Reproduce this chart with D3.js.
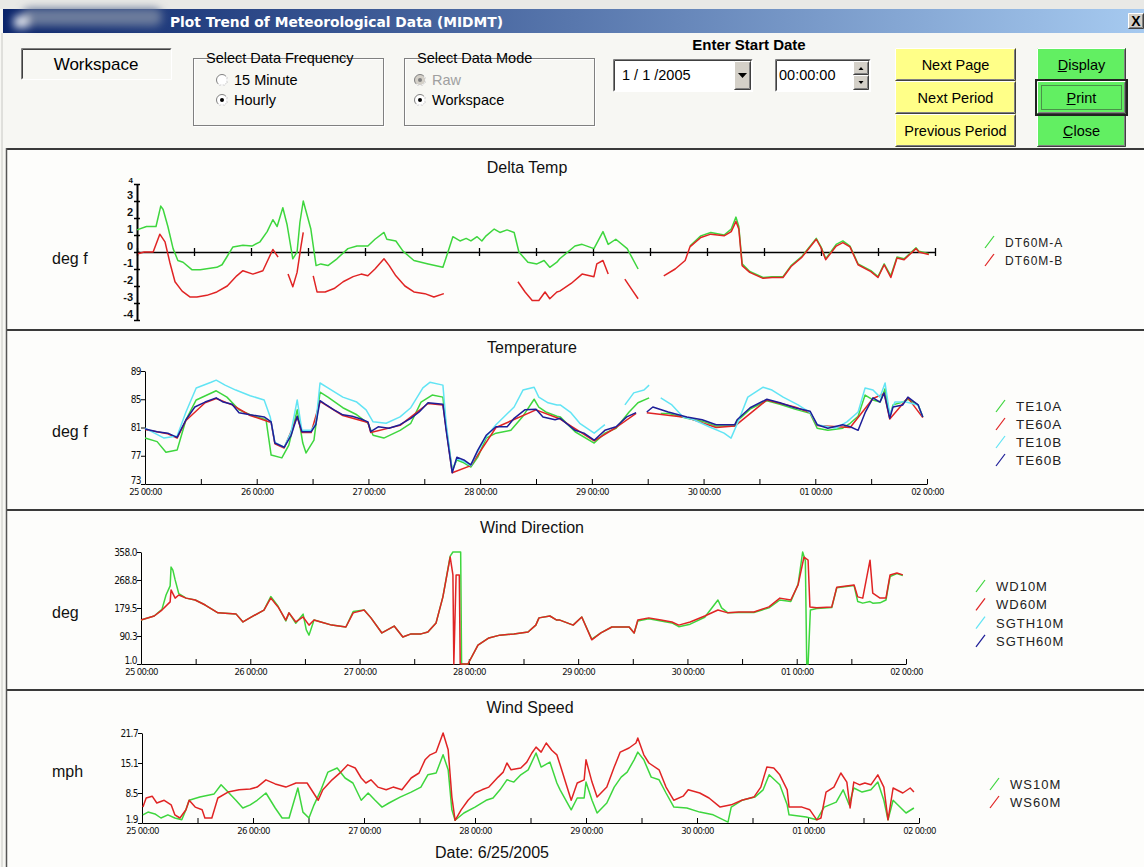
<!DOCTYPE html>
<html>
<head>
<meta charset="utf-8">
<script src="https://cdn.jsdelivr.net/npm/d3@7"></script>
<style>
  body { margin: 0; background: #f7f7f3; }
  svg { display: block; font-family: "Liberation Sans", Arial, sans-serif; }
</style>
</head>
<body>
<script>

// all x values are hours counted from 25 00:00 (hourly data, 7 days)
dayLabels = ["25 00:00","26 00:00","27 00:00","28 00:00","29 00:00","30 00:00","01 00:00","02 00:00"]

dtTicks = [-4,-3,-2,-1,0,1,2,3,4]
teTicks = [73,77,81,85,89]
wdTicks = [1.0,90.3,179.5,268.8,358.0]
wsTicks = [1.9,8.5,15.1,21.7]

// null = missing hours (line break)
dt60mA = [[0,1.3],[2,1.5],[4,1.5],[5,2.7],[5.5,2.5],[6.5,1.5],[7.6,0.2],[8.6,-0.5],[9.7,-0.6],[11.6,-1.05],[13.3,-1.05],[16.8,-0.9],[17.9,-0.75],[19,-0.25],[20.2,0.3],[22.3,0.4],[24.2,0.35],[25.9,0.6],[27.4,1.2],[28.6,1.9],[29.5,1.5],[30.7,2.6],[31.6,1.6],[32.8,-0.4],[33.7,0],[34.3,1.75],[35,3.0],[36.6,1.35],[37.7,-0.8],[38.7,-0.7],[40.2,-0.8],[42.1,-0.4],[44.4,0.2],[46.3,0.35],[48.6,0.35],[50.1,0.75],[52,1.15],[52.6,0.75],[54.5,0.65],[56,0.05],[58.3,-0.5],[61.3,-0.7],[64.4,-0.9],[65,-0.4],[66.5,0.9],[68,0.65],[69.3,0.8],[70.3,0.65],[71.6,0.9],[72.6,0.65],[73.5,0.95],[75.2,1.35],[76.4,1.15],[77.9,1.3],[79.4,1.15],[80.4,0],[82.3,-0.6],[84.2,-0.7],[85.7,-0.5],[86.9,-0.9],[88.4,-0.6],[89,-0.4],[92.2,0.35],[93.7,0.45],[96.2,0.2],[98.1,1.2],[99.2,0.45],[100.8,0.75],[103.2,0.2],[105.5,-1.0],null,[116.4,0.35],[118.7,0.95],[120.8,1.15],[123.6,1.0],[125.1,1.35],[126.1,2.05],[126.7,1.5],[127.4,-0.7],[129,-1.15],[131.8,-1.5],[133.7,-1.45],[136,-1.45],[137.7,-0.8],[140,-0.25],[143,0.8],[144,0.3],[145,-0.4],[147.2,0.45],[148.6,0.65],[150.1,0.35],[151.8,-0.7],[154.5,-1.1],[156,-1.45],[157.3,-0.7],[158.7,-1.4],[160,-0.3],[161.5,-0.4],[164,0.25],[164.6,0.05],[166.7,-0.1]]
dt60mB = [[0.2,-0.1],[1.5,0],[3.4,0],[4.8,1.05],[5.9,0.6],[6.9,-0.6],[8,-1.75],[9.5,-2.3],[11.2,-2.65],[12.6,-2.65],[14.7,-2.55],[16.8,-2.35],[19,-2.0],[21,-1.4],[22.3,-1.1],[24.4,-1.3],[26.5,-1.1],[28.6,0.15],[29.7,-0.3],null,[31.8,-1.3],[32.8,-2.05],[33.7,-1.2],[34.5,0.3],[35,1.15],null,[37.1,-1.4],[37.9,-2.35],[39.6,-2.35],[41.5,-2.15],[43.4,-1.75],[45.5,-1.45],[47.2,-1.3],[48.6,-1.4],[50.1,-1.0],[52,-0.4],[53.1,-0.8],[54.5,-1.4],[56.4,-2.0],[58.3,-2.35],[60.6,-2.45],[62.5,-2.65],[64.6,-2.45],null,[80.2,-1.75],[81.7,-2.35],[83.2,-2.85],[84.6,-2.85],[85.9,-2.35],[86.9,-2.75],[88.4,-2.35],[89,-2.3],[91.4,-1.85],[93.7,-1.3],[96.2,-1.45],[96.8,-0.7],[98.1,-0.5],[99.2,-1.3],null,[102.7,-1.6],[104.4,-2.3],[105.5,-2.75],null,[110.9,-1.4],[113.3,-1.0],[115.4,-0.5],[116.4,0.3],[118.7,0.85],[120.8,1.05],[123.6,0.95],[125.1,1.2],[126.1,1.8],[126.7,1.35],[127.4,-0.8],[129,-1.2],[131.8,-1.55],[133.7,-1.5],[136,-1.5],[137.7,-0.85],[140,-0.3],[143,0.75],[144,0.25],[145,-0.45],[147.2,0.35],[148.6,0.55],[150.1,0.3],[151.8,-0.75],[154.5,-1.15],[156,-1.5],[157.3,-0.75],[158.7,-1.5],[160,-0.35],[161.5,-0.45],[164,0.2],[164.6,0.0],[166.7,-0.15]]

te10A = [[0,79.5],[2.6,79.0],[4.5,77.5],[6.9,77.8],[8.8,82.1],[11,84.9],[15.3,86.2],[17.6,85.3],[20.2,83.5],[22.6,82.8],[26,82.1],[27.1,77.1],[29.4,76.7],[30.9,78.5],[32.7,83.5],[33.9,78.8],[34.6,77.4],[36.3,79.2],[37.6,86.0],[39.3,85.3],[42.5,83.8],[45.5,82.8],[47.9,81.6],[49,79.9],[51.3,79.5],[54.8,80.6],[57.1,81.6],[59.3,84.6],[61.7,85.6],[64,85.3],[64.7,81.1],[66,75.0],[67,76.4],[68.5,76.0],[70,75.4],[71.5,76.8],[73.3,79.5],[75.4,80.2],[78.6,80.6],[81.2,82.6],[83.6,85.0],[84.6,83.9],[86.1,83.2],[88.5,82.6],[89.2,82.5],[92.4,80.4],[96.5,78.8],[98.8,80.2],[101.2,80.9],[104,83.2],[105.9,84.5],[108.3,85.2],null,[110.8,83.0],[112.4,83.0],[116.4,82.3],[119.7,81.9],[122.7,81.2],[126.7,81.2],[127.2,81.9],[130,83.6],[133.6,84.8],[136.4,84.3],[139.6,83.6],[142.9,83.0],[144.4,80.9],[146.7,80.6],[149.9,80.9],[151.5,81.6],[153.2,82.6],[154.7,85.6],[156.4,84.9],[157.9,84.6],[159,86.5],[160,82.5],[160.7,84.2],[162.8,84.6],[163.9,85.0],[166.1,84.2],[167.1,82.5]]
te60A = [[0,80.7],[4.9,80.1],[6.9,79.5],[8.8,82.0],[12.9,84.5],[15.3,85.1],[18.7,84.2],[22.6,82.7],[27.1,81.7],[27.9,78.7],[29.9,78.1],[32.7,82.5],[33.7,80.3],[35.7,80.3],[37.6,84.7],[42.5,82.7],[47.9,81.7],[48.5,80.3],[54.8,81.3],[60.8,84.4],[64,84.2],[66,74.6],[70,75.6],[75.4,81.0],[84,83.5],[89.2,82.2],[96.5,79.1],[101.2,81.0],[105.5,83.0],null,[107.8,83.1],[116.4,82.4],[122.7,81.0],[126.7,81.2],[133.6,84.9],[139.6,83.9],[142.9,83.1],[144.4,81.3],[151.5,81.0],[156.4,85.1],[158.8,85.8],[160,82.2],[163.9,85.2],[167.1,82.4]]
te10B = [[0,80.9],[4.1,79.5],[6.9,79.8],[8.8,83.2],[11,86.6],[14.2,87.4],[15.3,87.7],[17.2,87.0],[19.5,86.3],[22.6,85.5],[25.6,84.9],[26.9,82.5],[27.9,78.9],[29.9,78.2],[31.4,80.4],[32.7,84.9],[33.7,80.6],[35.7,80.6],[36.7,81.6],[37.6,87.3],[39.3,86.6],[42.5,85.3],[45.5,84.6],[47.5,83.5],[49,81.8],[51.8,81.6],[54.8,82.5],[57.1,83.8],[59.7,86.6],[61.2,87.4],[64,87.0],[64.7,81.6],[66,74.8],[67,76.6],[68.5,76.2],[70,75.6],[71.5,77.6],[73.3,79.7],[75.4,81.4],[79.3,83.9],[81.2,86.3],[83.6,86.7],[84.6,85.3],[86.6,84.5],[88.5,84.2],[89.2,84.2],[91.5,83.1],[93.4,81.6],[96.5,80.2],[98.8,81.4],null,[103.1,84.2],[105,85.9],[107.2,86.3],[108.3,87.0],null,[110.8,85.2],[113.2,84.2],[115.6,82.5],[117.9,82.1],[121.2,81.1],[124.4,80.2],[125.9,79.5],[127.6,82.1],[129.5,85.3],[132.8,86.7],[134.7,86.3],[137.1,85.3],[140.3,84.2],[142.9,83.1],[144.4,81.4],[148.4,80.9],[150.8,81.8],[153.2,83.2],[154.7,86.6],[156.4,86.3],[157.9,85.3],[159,87.3],[160,82.8],[161.1,84.6],[163.5,84.6],[166.1,84.2],[167.1,82.5]]
te60B = [[0,80.8],[2.6,80.4],[4.9,80.2],[6.9,79.6],[8.8,82.1],[10.7,83.9],[12.9,84.6],[15.3,85.2],[16.8,84.6],[18.7,84.3],[20.2,83.1],[22.6,82.8],[25.6,82.5],[27.1,81.8],[27.9,78.8],[29.9,78.2],[31.4,79.9],[32.7,82.6],[33.7,80.4],[35.7,80.4],[36.7,81.4],[37.6,84.8],[38.7,84.3],[40.6,83.5],[42.5,82.8],[44.5,82.6],[46.4,82.2],[47.9,81.8],[48.5,80.4],[50.1,81.1],[52.4,80.9],[54.8,81.4],[57.1,82.3],[58.9,83.2],[60.8,84.5],[64,84.3],[64.7,80.6],[66,74.6],[67,76.8],[68.5,76.4],[70,75.7],[71.5,77.8],[73.3,79.9],[75.4,81.1],[77.8,81.1],[79.3,82.3],[81.6,83.5],[84,83.6],[85.5,82.5],[88.1,82.1],[89.2,82.3],[92.4,80.6],[94.3,80.2],[96.5,79.2],[98.8,80.6],[101.2,81.1],[103.5,82.5],[105.5,83.1],null,[107.8,83.2],[109.1,83.9],[112.4,83.2],[116.4,82.5],[119.7,82.1],[122.7,81.4],[126.7,81.4],[127.2,82.1],[130,83.8],[133.6,85.0],[136.4,84.5],[139.6,83.8],[142.9,83.3],[144.4,81.4],[146.7,80.9],[149.9,81.4],[151.5,81.1],[153.2,80.6],[154.7,83.1],[156.4,85.2],[157.9,84.6],[158.8,85.9],[160,82.3],[160.7,83.9],[162.8,84.2],[163.9,85.3],[166.1,84.2],[167.1,82.5]]

wd10M = [[0,141],[2.9,154],[4.6,175],[5.5,221],[6.4,250],[6.6,310],[7.0,300],[7.5,269],[8.3,225],[9.9,211],[11.9,205],[14.1,189],[16.9,164],[20.9,160],[22.4,135],[23.9,148],[27,173],[28.5,216],[30.1,185],[31.8,138],[32.5,164],[34,131],[35.6,160],[36.3,110],[36.9,93],[38,141],[39.5,135],[41.9,125],[45,119],[46.6,168],[49,173],[50.5,148],[52.9,100],[55.6,122],[57.5,87],[59.3,97],[61.5,97],[63,103],[64.8,132],[66.3,215],[67.9,345],[68.5,358],[70.2,358],[70.4,1],[71.8,1],[74,61],[76.4,84],[78.8,93],[81.9,97],[85,103],[86.7,125],[87.4,148],[89.8,154],[91.3,141],[92,141],[94.9,125],[96.8,151],[99,80],[101,100],[103.4,119],[107.2,119],[108.3,100],[109.1,138],[111.5,145],[114.2,138],[116.6,132],[118.1,120],[120.6,128],[123.8,150],[126.7,205],[127.5,180],[128.9,164],[131.3,165],[134.6,165],[137.9,180],[140.3,205],[142.7,200],[144.3,255],[145.3,358],[145.9,330],[146.2,1],[146.5,1],[147,173],[148.4,178],[151.7,181],[152.8,244],[156.6,251],[157.4,200],[158.5,195],[160.1,200],[160.7,195],[162.3,196],[163.6,205],[164.5,280],[166,289],[167.3,283]]
wd60M = [[0,141],[2.9,154],[4.6,173],[6.4,199],[6.6,237],[7.5,211],[8.3,221],[9.9,211],[11.9,205],[14.1,189],[16.9,164],[20.9,160],[22.4,135],[23.9,148],[27,173],[28.5,211],[30.1,183],[31.8,141],[32.5,164],[34,135],[35.6,151],[36.9,125],[38,141],[39.5,135],[41.9,125],[45,119],[46.6,164],[49,173],[50.5,148],[52.9,100],[55.6,122],[57.5,87],[59.3,97],[61.5,97],[63,103],[64.8,132],[66.3,215],[67.9,342],[68.5,285],[68.7,1],[69.2,285],[69.9,285],[70.1,1],[71.8,1],[74,61],[76.4,84],[78.8,93],[81.9,97],[85,103],[86.7,125],[87.4,148],[89.8,154],[91.3,141],[92,141],[94.9,125],[96.8,151],[99,78],[101,100],[103.4,119],[107.2,119],[108.3,100],[109.1,141],[111.5,148],[114.2,141],[116.6,135],[118.1,125],[120.6,135],[123.8,154],[126.7,173],[128.9,164],[131.3,167],[134.6,167],[137.9,183],[140.3,211],[142.7,205],[144.3,253],[145.6,342],[146.5,332],[146.9,183],[148.4,180],[151.7,183],[152.8,246],[156.6,253],[157.4,215],[158.5,211],[160.1,332],[160.7,227],[162.3,211],[163.6,211],[164.5,285],[166,291],[167.3,285]]
sgth10M = []
sgth60M = []

ws10M = [[0.2,3.7],[1.3,4.3],[2.8,3.9],[4.1,3.0],[5.6,3.7],[7.1,3.0],[8.6,2.6],[9.5,4.8],[10.2,6.9],[12.5,7.6],[15.6,8.3],[17.1,10.3],[18.6,8.7],[20.3,6.9],[21.8,5.2],[23.4,5.9],[24.9,6.9],[26.8,8.5],[28.8,5.2],[30.3,3.0],[31.8,3.0],[33.7,9.6],[34.8,4.3],[36.1,3.0],[37.2,5.9],[38.7,9.2],[40.2,13.1],[42.2,14.0],[43.9,11.8],[45.6,10.7],[47.4,6.9],[48.9,8.5],[50.4,6.9],[51.9,5.4],[53.4,6.3],[55.8,7.6],[58.2,8.7],[60.3,9.8],[61.8,12.5],[63.6,12.9],[65.1,16.9],[66.2,13.6],[67,4.8],[67.7,2.5],[69.6,4.1],[72,5.4],[74.4,6.9],[75.9,7.4],[77.4,9.2],[78.9,11.4],[80.4,10.9],[81.9,12.5],[83.5,13.6],[85.2,17.3],[86.3,14.2],[88.2,15.3],[89.7,10.7],[90.4,9.2],[92.8,4.8],[94.1,7.4],[95.6,7.4],[96,10.9],[97.3,6.9],[98.4,4.1],[100.5,6.3],[102.1,9.8],[103.6,12.0],[104.9,13.1],[106.4,15.8],[107.2,17.5],[108.5,15.8],[110.1,12.0],[111.8,11.4],[113.3,8.5],[115,5.4],[117.8,5.2],[120.6,4.3],[123.5,3.7],[126.7,2.1],[127.4,5.4],[129.7,6.9],[132.5,7.6],[134.3,9.2],[135.6,12.5],[137.9,10.3],[139.5,5.9],[139.9,3.7],[143.6,3.2],[145.9,2.6],[147.5,5.4],[150.1,6.5],[151.6,9.2],[152.9,5.9],[153.9,9.6],[155.7,8.7],[157.6,9.2],[159.1,10.9],[160.4,6.9],[161.3,2.6],[162.4,6.9],[165.2,4.1],[166.9,5.2]]
ws60M = [[0.2,5.4],[0.9,7.4],[2.2,7.8],[3.2,6.3],[4.8,6.9],[6.3,5.9],[7.1,3.7],[8.2,3.0],[9.5,4.8],[10.2,6.9],[11.5,5.4],[13,4.8],[13.6,3.0],[15.1,3.0],[16.4,7.4],[18.6,8.7],[21,9.2],[23.4,9.4],[24.9,9.8],[26.8,11.4],[28.8,10.5],[31.1,9.8],[33.3,10.7],[35.7,10.7],[38.1,6.9],[39.1,9.2],[41.1,11.4],[43,13.1],[44.5,14.7],[46.1,14.0],[47.4,11.8],[48.4,10.7],[49.5,11.4],[51,9.8],[52.8,9.2],[54.3,9.8],[56.2,9.2],[58.2,11.8],[59.9,12.9],[61.2,15.8],[62.3,16.9],[63.6,17.5],[65.1,21.7],[66.2,18.0],[67,7.6],[67.7,2.5],[69,4.8],[70.5,6.9],[72,8.5],[73.5,9.2],[75,9.8],[77,12.0],[78.1,13.1],[78.9,15.1],[79.8,13.6],[81.9,14.0],[83.2,15.3],[84.3,17.3],[85.2,18.6],[86.3,17.5],[87.4,19.5],[88.6,17.9],[89.7,16.9],[90.4,14.7],[92.8,6.9],[94.1,10.7],[95.6,11.4],[96,15.8],[97.3,10.9],[98.4,7.6],[100.5,9.8],[102.1,14.2],[103.4,17.5],[105.3,18.4],[106.8,19.5],[107.2,20.6],[108.5,16.9],[109.6,15.1],[111.8,13.6],[113.3,9.8],[115,6.9],[117,7.8],[118.1,9.2],[120.6,8.5],[122.6,7.4],[125,5.4],[127.4,5.9],[129.7,6.9],[132.3,7.6],[133.8,9.8],[135.1,14.2],[136.6,14.0],[137.9,12.5],[139.5,9.2],[139.9,5.4],[142.7,5.4],[144.4,4.8],[145.9,2.6],[146.8,3.0],[147.9,8.7],[149.6,9.8],[151.1,12.9],[152.4,10.9],[153.1,5.2],[153.9,10.9],[155.2,10.3],[156.3,10.7],[157.6,10.3],[159.1,12.5],[160.4,9.8],[161.3,2.6],[162.4,9.6],[164.5,8.5],[166.1,9.6],[166.9,8.7]]


W = 1144
H = 867
green = "#3ed63e"
red = "#e02424"
cyan = "#62e4f4"
navy = "#1e1e98"

var svg = d3.select("body").append("svg")
    .attr("width", W)
    .attr("height", H);

var defs = svg.append("defs");
var tb = defs.append("linearGradient").attr("id", "tb");
tb.append("stop").attr("offset", "0%").attr("stop-color", "#0a246a");
tb.append("stop").attr("offset", "100%").attr("stop-color", "#a6caf0");
defs.append("filter").attr("id", "blur")
    .attr("x", "-20%").attr("y", "-50%").attr("width", "140%").attr("height", "200%")
  .append("feGaussianBlur").attr("stdDeviation", 4);


// window frame + title bar
svg.append("rect").attr("width", W).attr("height", H).attr("fill", "#f7f7f3");
svg.append("rect").attr("width", W).attr("height", 9).attr("fill", "#e9e9e6");
svg.append("rect").attr("x", 3).attr("y", 9).attr("width", W - 3).attr("height", 24).attr("fill", "url(#tb)");

// smeared icon area on the left of the caption
var smear = svg.append("g").attr("filter", "url(#blur)");
smear.append("rect").attr("x", 22).attr("y", 8).attr("width", 140).attr("height", 18).attr("rx", 8).attr("fill", "#6c7c9c");
smear.append("rect").attr("x", 14).attr("y", 16).attr("width", 14).attr("height", 12).attr("fill", "#e0e4ec");

svg.append("text")
    .attr("x", 170).attr("y", 27)
    .attr("font-family", "'DejaVu Sans', Verdana, sans-serif")
    .attr("font-weight", "bold")
    .attr("font-size", 13.5)
    .attr("textLength", 333)
    .attr("lengthAdjust", "spacingAndGlyphs")
    .attr("fill", "#fff")
    .text("Plot Trend of Meteorological Data (MIDMT)");

// close box
raised(svg, 1128, 13, 16, 16, "#d4d0c8");
svg.append("text").attr("x", 1136).attr("y", 26).attr("text-anchor", "middle")
    .attr("font-weight", "bold").attr("font-size", 14).text("X");


// ---------- helpers for the classic windows controls ----------
function raised(g, x, y, w, h, fill) {
  g.append("rect").attr("x", x).attr("y", y).attr("width", w).attr("height", h).attr("fill", fill);
  g.append("path").attr("d", `M${x+0.5},${y+h-0.5}H${x+w-0.5}V${y+0.5}`).attr("stroke", "#404040").attr("fill", "none");
  g.append("path").attr("d", `M${x+1.5},${y+h-1.5}H${x+w-1.5}V${y+1.5}`).attr("stroke", "#808080").attr("fill", "none");
  g.append("path").attr("d", `M${x+0.5},${y+h-1}V${y+0.5}H${x+w-1}`).attr("stroke", "#fff").attr("fill", "none");
}

function sunken(g, x, y, w, h, fill) {
  g.append("rect").attr("x", x).attr("y", y).attr("width", w).attr("height", h).attr("fill", fill);
  g.append("path").attr("d", `M${x+0.5},${y+h-0.5}V${y+0.5}H${x+w-0.5}`).attr("stroke", "#808080").attr("fill", "none");
  g.append("path").attr("d", `M${x+1.5},${y+h-1.5}V${y+1.5}H${x+w-1.5}`).attr("stroke", "#404040").attr("fill", "none");
  g.append("path").attr("d", `M${x+0.5},${y+h-0.5}H${x+w-0.5}V${y+0.5}`).attr("stroke", "#fff").attr("fill", "none");
}

function groupBox(g, x, y, w, h, label) {
  g.append("rect").attr("x", x + 1.5).attr("y", y + 1.5).attr("width", w).attr("height", h)
      .attr("fill", "none").attr("stroke", "#fff");
  g.append("rect").attr("x", x + 0.5).attr("y", y + 0.5).attr("width", w).attr("height", h)
      .attr("fill", "none").attr("stroke", "#808080");
  var t = g.append("text").attr("x", x + 13).attr("y", y + 5).attr("font-size", 14.5).text(label);
  var bb = t.node().getBBox();
  g.insert("rect", "text").attr("x", bb.x - 2).attr("y", y - 2).attr("width", bb.width + 4).attr("height", 6)
      .attr("fill", "#f7f7f3");
}

function radio(g, cx, cy, label, on, disabled) {
  g.append("circle").attr("cx", cx).attr("cy", cy).attr("r", 5.5)
      .attr("fill", disabled ? "#d4d0c8" : "#fff").attr("stroke", "#808080");
  g.append("path").attr("d", d3.arc()({innerRadius: 5, outerRadius: 6, startAngle: Math.PI * 0.25, endAngle: Math.PI * 1.25}))
      .attr("transform", `translate(${cx},${cy})`).attr("fill", "#fff");
  if (on) g.append("circle").attr("cx", cx).attr("cy", cy).attr("r", 2).attr("fill", disabled ? "#808080" : "#000");
  g.append("text").attr("x", cx + 12).attr("y", cy + 5).attr("font-size", 14.5)
      .attr("fill", disabled ? "#a0a0a0" : "#000").text(label);
}

function button(g, x, y, w, h, fill, label, ul) {
  raised(g, x, y, w, h, fill);
  var t = g.append("text").attr("x", x + w / 2).attr("y", y + h / 2 + 5)
      .attr("text-anchor", "middle").attr("font-size", 14.5).text(label);
  if (ul) {
    var bb = t.node().getBBox();
    g.append("line").attr("x1", bb.x).attr("x2", bb.x + 9).attr("y1", y + h / 2 + 7).attr("y2", y + h / 2 + 7)
        .attr("stroke", "#000");
  }
}


// ---------- control strip ----------
var ctl = svg.append("g");
sunken(ctl, 21, 48, 151, 32, "#f7f7f3");
ctl.append("text").attr("x", 96).attr("y", 70).attr("text-anchor", "middle").attr("font-size", 17).text("Workspace");

groupBox(ctl, 193, 58, 190, 67, "Select Data Frequency");
radio(ctl, 222, 80, "15 Minute", false, false);
radio(ctl, 222, 100, "Hourly", true, false);

groupBox(ctl, 404, 58, 190, 67, "Select Data Mode");
radio(ctl, 420, 80, "Raw", true, true);
radio(ctl, 420, 100, "Workspace", true, false);

ctl.append("text").attr("x", 749).attr("y", 50).attr("text-anchor", "middle")
    .attr("font-weight", "bold").attr("font-size", 15).text("Enter Start Date");

sunken(ctl, 613, 59, 140, 33, "#fff");
ctl.append("text").attr("x", 622).attr("y", 80).attr("font-size", 14.5).text("1 / 1 /2005");
raised(ctl, 734, 61, 17, 29, "#d4d0c8");
ctl.append("path").attr("d", "M738,73h9l-4.5,5z").attr("fill", "#000");

sunken(ctl, 775, 59, 96, 33, "#fff");
ctl.append("text").attr("x", 779).attr("y", 80).attr("font-size", 14.5).text("00:00:00");
raised(ctl, 853, 61, 16, 14, "#d4d0c8");
raised(ctl, 853, 75, 16, 15, "#d4d0c8");
ctl.append("path").attr("d", "M858.5,70h5l-2.5,-3z").attr("fill", "#000");
ctl.append("path").attr("d", "M858.5,81h5l-2.5,3z").attr("fill", "#000");

button(ctl, 895, 48, 121, 33, "#ffff88", "Next Page");
button(ctl, 895, 81, 121, 33, "#ffff88", "Next Period");
button(ctl, 895, 114, 121, 33, "#ffff88", "Previous Period");

button(ctl, 1037, 48, 89, 33, "#62ef62", "Display", true);
button(ctl, 1037, 81, 89, 33, "#62ef62", "Print", true);
button(ctl, 1037, 114, 89, 33, "#62ef62", "Close", true);
ctl.append("rect").attr("x", 1036).attr("y", 80).attr("width", 91).attr("height", 35)
    .attr("fill", "none").attr("stroke", "#222").attr("stroke-width", 2);
ctl.append("rect").attr("x", 1041.5).attr("y", 85.5).attr("width", 80).attr("height", 24)
    .attr("fill", "none").attr("stroke", "#333").attr("stroke-dasharray", "1,1");


// ---------- plot panels ----------
panels = [
  { top: 149, bottom: 330, title: "Delta Temp", titleX: 527, titleY: 173, unit: "deg f", unitY: 264,
    left: 137, right: 935, yTop: 184, yBot: 320, domain: [-4, 4], ticks: dtTicks, fmt: d => d, zeroAxis: true,
    legX: 985, legY: 242, legStep: 18, legSize: 12,
    series: [{ name: "DT60M-A", color: green, data: dt60mA }, { name: "DT60M-B", color: red, data: dt60mB }] },
  { top: 330, bottom: 510, title: "Temperature", titleX: 532, titleY: 353, unit: "deg f", unitY: 437,
    left: 145, right: 927, yTop: 371, yBot: 484, domain: [73, 89], ticks: teTicks, fmt: d => d,
    legX: 996, legY: 406, legStep: 18, legSize: 13.5,
    series: [{ name: "TE10A", color: green, data: te10A }, { name: "TE60A", color: red, data: te60A },
             { name: "TE10B", color: cyan, data: te10B }, { name: "TE60B", color: navy, data: te60B }] },
  { top: 510, bottom: 690, title: "Wind Direction", titleX: 532, titleY: 533, unit: "deg", unitY: 618,
    left: 141, right: 906, yTop: 552, yBot: 664, domain: [1, 358], ticks: wdTicks, fmt: d3.format(".1f"),
    legX: 976, legY: 586, legStep: 18.3, legSize: 13,
    series: [{ name: "WD10M", color: green, data: wd10M }, { name: "WD60M", color: red, data: wd60M },
             { name: "SGTH10M", color: cyan, data: sgth10M }, { name: "SGTH60M", color: navy, data: sgth60M }] },
  { top: 690, bottom: 867, title: "Wind Speed", titleX: 530, titleY: 713, unit: "mph", unitY: 777,
    left: 142, right: 919, yTop: 733, yBot: 823, domain: [1.9, 21.7], ticks: wsTicks, fmt: d3.format(".1f"),
    legX: 990, legY: 784, legStep: 18, legSize: 13,
    series: [{ name: "WS10M", color: green, data: ws10M }, { name: "WS60M", color: red, data: ws60M }] }
]

panels.forEach(function(p) {
  var g = svg.append("g");

  g.append("rect").attr("x", 7).attr("y", p.top).attr("width", W - 7).attr("height", p.bottom - p.top)
      .attr("fill", "#fdfdfb");
  g.append("line").attr("x1", 6).attr("x2", W).attr("y1", p.top).attr("y2", p.top)
      .attr("stroke", "#3a3a3a").attr("stroke-width", 2);

  var x = d3.scaleLinear().domain([0, 168]).range([p.left, p.right]);
  var y = d3.scaleLinear().domain(p.domain).range([p.yBot, p.yTop]);

  g.append("text").attr("x", p.titleX).attr("y", p.titleY).attr("text-anchor", "middle")
      .attr("font-size", 16).attr("fill", "#111").text(p.title);
  g.append("text").attr("x", 52).attr("y", p.unitY).attr("font-size", 16).attr("fill", "#111").text(p.unit);

  var halfDays = d3.range(0, 169, 12);

  if (p.zeroAxis) {
    // delta temp: y axis with crossing ticks, labels sit above their ticks
    var ya = g.append("g").attr("transform", `translate(${p.left},0)`)
        .call(d3.axisLeft(y).tickValues(p.ticks).tickSize(3).tickSizeOuter(0).tickFormat(p.fmt));
    ya.selectAll(".tick line").attr("x1", 3).attr("stroke-width", 1.5);
    ya.select(".domain").attr("stroke-width", 2);
    ya.selectAll(".tick text").attr("x", -4).attr("dy", "-0.2em")
        .attr("font-family", "'Liberation Sans', Arial, sans-serif").attr("font-weight", "bold")
        .attr("font-size", d => d == 4 ? 8 : 11).attr("fill", "#111");

    var xa = g.append("g").attr("transform", `translate(0,${y(0)})`)
        .call(d3.axisBottom(x).tickValues(halfDays).tickSize(4).tickSizeOuter(0).tickFormat(""));
    xa.selectAll(".tick line").attr("y1", -4).attr("stroke-width", 1.3);
    xa.select(".domain").attr("stroke-width", 1.6);
  } else {
    var ya = g.append("g").attr("transform", `translate(${p.left},0)`)
        .call(d3.axisLeft(y).tickValues(p.ticks).tickSize(4).tickSizeOuter(0).tickFormat(p.fmt));
    ya.selectAll(".tick text").attr("x", -4)
        .attr("dy", (d, i) => i == 0 ? "-0.1em" : "0.32em")
        .attr("font-family", "'Liberation Sans Narrow', 'DejaVu Sans Condensed', sans-serif")
        .attr("font-size", 10).attr("letter-spacing", -0.6).attr("fill", "#111");

    var xa = g.append("g").attr("transform", `translate(0,${p.yBot})`)
        .call(d3.axisBottom(x).tickValues(halfDays).tickSize(-5).tickSizeOuter(0)
          .tickFormat(h => h % 24 == 0 ? dayLabels[h / 24] : ""));
    xa.selectAll(".tick text").attr("y", 4)
        .attr("font-family", "'Liberation Sans Narrow', 'DejaVu Sans Condensed', sans-serif")
        .attr("font-size", 9.5).attr("letter-spacing", -0.7).attr("fill", "#111");
  }

  var line = d3.line()
      .defined(d => d != null)
      .x(d => x(d[0]))
      .y(d => y(d[1]));

  p.series.forEach(function(s) {
    g.append("path")
        .datum(s.data)
        .attr("fill", "none")
        .attr("stroke", s.color)
        .attr("stroke-width", 1.5)
        .attr("stroke-linejoin", "round")
        .attr("d", line);
  });

  // legend: little slanted stroke + name
  var rows = g.selectAll(".leg").data(p.series).join("g")
      .attr("transform", (d, i) => `translate(${p.legX},${p.legY + i * p.legStep})`);
  rows.append("line").attr("x1", 0).attr("y1", 6).attr("x2", 9).attr("y2", -6)
      .attr("stroke", d => d.color).attr("stroke-width", 1.2);
  rows.append("text").attr("x", 20).attr("y", 5)
      .attr("font-size", p.legSize).attr("letter-spacing", 1).attr("fill", "#222")
      .text(d => d.name);
});

svg.append("text").attr("x", 492).attr("y", 858).attr("text-anchor", "middle")
    .attr("font-size", 16).attr("fill", "#111").text("Date: 6/25/2005");

// frame on the left and the line under the controls
svg.append("line").attr("x1", 2).attr("x2", 2).attr("y1", 33).attr("y2", H).attr("stroke", "#c8c8c4");
svg.append("line").attr("x1", 6.5).attr("x2", 6.5).attr("y1", 148).attr("y2", H).attr("stroke", "#555").attr("stroke-width", 1.5);

</script>
</body>
</html>
